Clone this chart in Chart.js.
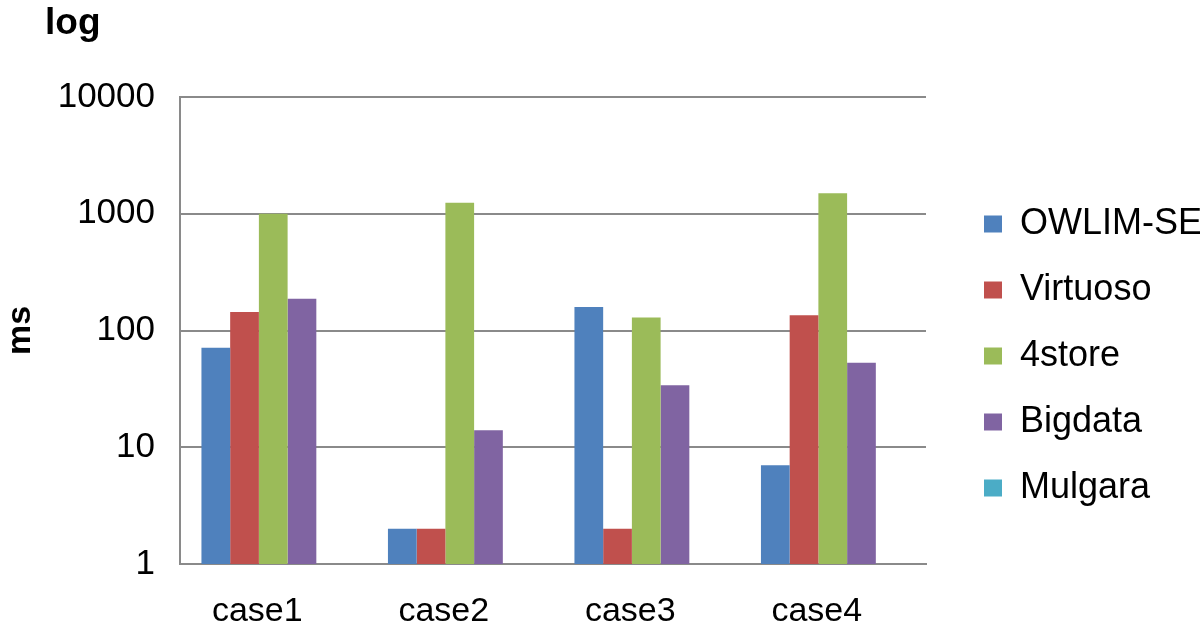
<!DOCTYPE html>
<html><head><meta charset="utf-8">
<script src="https://cdn.jsdelivr.net/npm/chart.js@4/dist/chart.umd.min.js"></script>
<style>html,body{margin:0;padding:0;background:#fff;overflow:hidden}</style>
</head><body>
<canvas id="c" width="1200" height="631"></canvas>
<script>
const categories = ['case1', 'case2', 'case3', 'case4'];
const seriesNames = ['OWLIM-SE', 'Virtuoso', '4store', 'Bigdata', 'Mulgara'];
const owlimSE = [71, 2, 159, 7];
const virtuoso = [144, 2, 2, 135];
const fourStore = [1000, 1240, 129, 1500];
const bigdata = [187, 14, 34, 53];
const mulgara = [null, null, null, null];
const yTicks = [1, 10, 100, 1000, 10000];
const colors = ['#4F81BD', '#C0504D', '#9BBB59', '#8064A2', '#4BACC6'];

const FONT = 'Liberation Sans, Arial, Helvetica, sans-serif';
const GRID = '#8a8a8a';
const seriesValues = [owlimSE, virtuoso, fourStore, bigdata, mulgara];

const topLabel = {
  id: 'topLabel',
  afterDraw(chart) {
    const ctx = chart.ctx;
    ctx.save();
    ctx.font = 'bold 37px ' + FONT;
    ctx.fillStyle = '#000';
    ctx.textAlign = 'left';
    ctx.textBaseline = 'alphabetic';
    ctx.fillText('log', 45, 34);
    ctx.restore();
  }
};

new Chart(document.getElementById('c'), {
  type: 'bar',
  data: {
    labels: categories,
    datasets: seriesNames.map((n, i) => ({
      label: n,
      data: seriesValues[i],
      backgroundColor: colors[i],
      borderWidth: 0,
      categoryPercentage: 0.77,
      barPercentage: 1.0
    }))
  },
  options: {
    responsive: false,
    animation: false,
    layout: { padding: { top: 97, left: 0, right: 0, bottom: 0 } },
    plugins: {
      legend: {
        position: 'right',
        fullSize: false,
        maxWidth: 246,
        title: { display: true, text: '', font: { size: 10, lineHeight: 1 }, padding: 20.5 },
        labels: {
          boxWidth: 18,
          boxHeight: 17,
          padding: 30,
          color: '#000',
          font: { family: FONT, size: 36 }
        }
      },
      tooltip: { enabled: false }
    },
    scales: {
      x: {
        grid: { display: false, drawTicks: false },
        border: { display: true, color: GRID, width: 2 },
        ticks: { color: '#000', font: { family: FONT, size: 34 }, padding: 27, labelOffset: -16, maxRotation: 0 },
        afterFit: s => { s.height = 67; }
      },
      y: {
        type: 'logarithmic',
        min: 1,
        max: 10000,
        afterBuildTicks: s => { s.ticks = yTicks.map(v => ({ value: v })); },
        grid: { color: GRID, lineWidth: 2, drawTicks: false },
        border: { display: true, color: GRID, width: 2 },
        ticks: { color: '#000', font: { family: FONT, size: 35 }, padding: 25, callback: v => String(v) },
        title: { display: true, text: 'ms', color: '#000', font: { family: FONT, size: 34, weight: 'bold' }, padding: { top: 0, bottom: 0 } },
        afterFit: s => { s.width = 180; }
      },
      y2: {
        position: 'right',
        display: true,
        grid: { display: false, drawTicks: false },
        border: { display: false },
        ticks: { display: false },
        afterFit: s => { s.width = 28; }
      }
    }
  },
  plugins: [topLabel]
});
</script>
</body></html>
